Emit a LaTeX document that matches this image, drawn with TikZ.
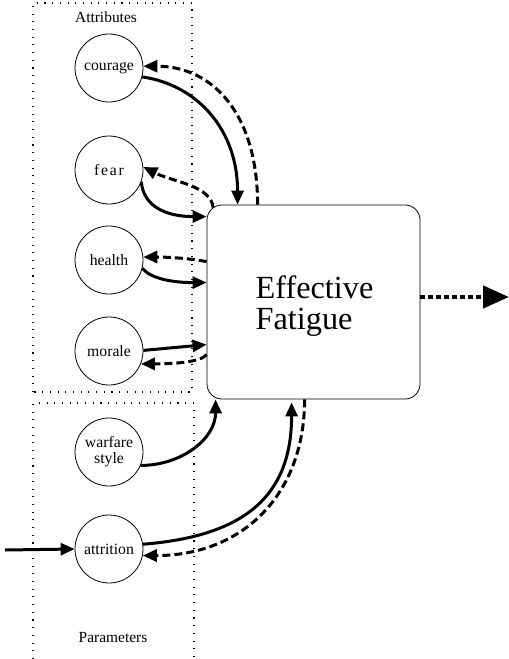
\documentclass[tikz,border=0pt]{standalone}
\usepackage{fontspec}
\setmainfont{Liberation Serif}
\usetikzlibrary{arrows.meta,calc}
\begin{document}
\begin{tikzpicture}[x=1bp,y=-1bp,
  attr/.style={circle,draw,line width=0.8bp,minimum size=68bp,inner sep=0pt,align=center,font=\fontsize{15.8}{16}\selectfont},
  grp/.style={line width=1.1bp,dash pattern=on 1.1bp off 6.6bp},
  lbl/.style={font=\fontsize{15.5}{16}\selectfont},
  fb/.style={line width=3bp,-{Triangle[length=14bp,width=12bp]}},
  fd/.style={fb,dash pattern=on 8bp off 4bp},
  outarrow/.style={line width=4.5bp,dash pattern=on 5bp off 3bp,-{Triangle[length=26bp,width=22bp]}}
]
\useasboundingbox (0,0) rectangle (509,659);
% group boxes
\draw[grp] (33,392) -- (33,3) -- (192,3) -- (192,392) -- cycle;
\draw[grp] (33,659) -- (33,403) -- (194,403) -- (194,659);
\node[lbl] (attrlbl) at (106,17) {Attributes};
\node[lbl] (parlbl) at (113,638) {Parameters};
% main box
\node[draw,line width=0.8bp,rounded corners=15bp,minimum width=213bp,minimum height=194bp] (ef) at (313.5,302) {};
\node[font=\fontsize{32.4}{31}\selectfont,align=left] (eftxt) at ($(ef.center)+(1,4.5)$) {Effective\\Fatigue};
% attribute nodes
\node[attr] (courage) at (109,68) {courage};
\node[attr] (fear) at (109,170) {\addfontfeature{LetterSpace=11}fear};
\node[attr] (health) at (109,260) {health};
\node[attr] (morale) at (109,351) {morale};
\node[attr] (warfare) at (109,452) {warfare\\style};
\node[attr] (attrition) at (109,549) {attrition};
% connectors
\draw[fb] (courage.-15) .. controls +(55,8) and +(0,-75) .. ($(ef.north west)+(31,0)$);
\draw[fd] ($(ef.north west)+(51,0)$) .. controls +(0,-90) and +(70,0) .. (courage.3);
\draw[fb] (fear.-20) .. controls +(2,25) and +(-40,0) .. ($(ef.north west)+(0,12)$);
\draw[fd] ($(ef.north west)+(6.5,3)$) .. controls +(-2,-22) and +(30,15) .. (fear.5);
\draw[fd] ($(ef.north west)+(0,57)$) .. controls +(-15,-3) and +(25,0) .. (health.5);
\draw[fb] (health.-14) .. controls +(8,10) and +(-35,0) .. ($(ef.north west)+(0,78)$);
\draw[fb] (morale.1) -- ($(ef.north west)+(0,140)$);
\draw[fd] ($(ef.north west)+(0,150)$) .. controls +(-6,8) and +(30,0) .. (morale.-22);
\draw[fb] (warfare.-23) .. controls +(40,0) and +(0,40) .. ($(ef.south west)+(9,0)$);
\draw[fb] (attrition.8) .. controls +(100,-8) and +(0,95) .. ($(ef.south west)+(85,3)$);
\draw[fd] ($(ef.south west)+(98,0)$) .. controls +(0,95) and +(100,0) .. (attrition.-11);
\coordinate (src) at (5,550);
\draw[fb] (src) -- (attrition.west);
\coordinate (out) at (509,297);
\draw[outarrow] ($(ef.east)+(0,-5)$) -- (out);
\end{tikzpicture}
\end{document}
